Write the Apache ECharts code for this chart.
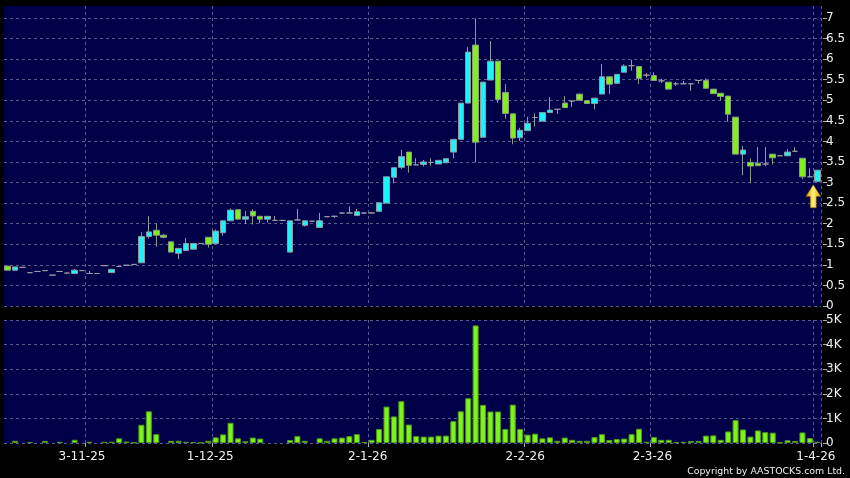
<!DOCTYPE html>
<html>
<head>
<meta charset="utf-8">
<script src="https://cdn.jsdelivr.net/npm/echarts@6/dist/echarts.min.js"></script>
<style>
html,body{margin:0;padding:0;background:#000;}
#chart{width:850px;height:478px;}
</style>
</head>
<body>
<div id="chart"></div>
<script>
// ---- data ----
const open = [0.97,0.87,0.94,0.81,0.84,0.86,0.75,0.84,0.80,0.79,
0.86,0.79,0.79,0.98,0.81,0.96,0.99,1.01,1.05,1.69,
1.84,1.72,1.56,1.28,1.35,1.38,1.52,1.67,1.52,1.78,
2.07,2.34,2.11,2.30,2.18,2.11,2.08,2.08,1.31,2.09,
1.96,2.06,1.91,2.17,2.18,2.26,2.26,2.20,2.26,2.26,
2.30,2.50,3.13,3.37,3.74,3.43,3.44,3.49,3.45,3.48,
3.74,4.05,4.93,6.34,4.10,5.49,5.95,5.19,4.67,4.09,
4.26,4.58,4.49,4.70,4.78,4.93,4.98,5.15,4.99,4.92,
5.15,5.57,5.41,5.68,5.84,5.82,5.61,5.60,5.47,5.44,
5.40,5.40,5.40,5.48,5.48,5.27,5.17,5.10,4.59,3.69,
3.49,3.47,3.45,3.69,3.65,3.65,3.76,3.59,3.14,3.03];
const high = [0.97,0.95,0.94,0.81,0.84,0.86,0.75,0.84,0.80,0.90,
0.86,0.85,0.79,0.98,0.89,0.96,0.99,1.01,1.79,2.19,
2.01,1.75,1.56,1.41,1.65,1.52,1.52,1.67,1.86,2.07,
2.37,2.34,2.31,2.35,2.18,2.18,2.19,2.08,2.07,2.36,
2.07,2.06,2.26,2.17,2.18,2.26,2.42,2.36,2.26,2.26,
2.51,3.14,3.36,3.79,3.74,3.59,3.55,3.59,3.54,3.58,
4.05,4.93,6.29,6.99,5.44,6.44,5.95,5.39,4.67,4.33,
4.60,4.68,4.70,5.08,4.78,5.10,4.98,5.15,4.99,5.05,
5.88,5.57,5.63,5.87,5.98,5.82,5.66,5.68,5.52,5.44,
5.44,5.47,5.40,5.48,5.53,5.27,5.17,5.10,4.59,3.89,
3.59,3.86,3.86,3.69,3.65,3.81,3.86,3.59,3.35,3.30];
const low = [0.87,0.87,0.94,0.81,0.84,0.86,0.75,0.84,0.80,0.79,
0.86,0.79,0.79,0.98,0.81,0.96,0.99,1.01,1.05,1.64,
1.44,1.65,1.31,1.14,1.33,1.38,1.52,1.42,1.52,1.71,
2.07,2.11,1.99,1.98,2.01,2.03,2.08,2.08,1.31,2.09,
1.93,2.06,1.91,2.17,2.14,2.26,2.26,2.20,2.26,2.26,
2.30,2.50,2.98,3.33,3.24,3.43,3.39,3.41,3.45,3.48,
3.59,4.05,4.93,3.49,4.10,5.49,4.93,4.55,3.93,4.01,
4.26,4.36,4.49,4.70,4.67,4.82,4.84,5.00,4.92,4.78,
5.15,5.15,5.41,5.68,5.72,5.39,5.55,5.48,5.42,5.27,
5.35,5.40,5.23,5.40,5.29,5.16,4.99,4.48,3.69,3.18,
2.98,3.41,3.40,3.44,3.65,3.65,3.76,3.08,3.14,3.03];
const close = [0.87,0.95,0.94,0.81,0.84,0.86,0.75,0.84,0.80,0.87,
0.86,0.79,0.79,0.98,0.89,0.96,0.99,1.01,1.69,1.80,
1.72,1.67,1.31,1.40,1.52,1.52,1.52,1.50,1.82,2.07,
2.33,2.11,2.17,2.19,2.11,2.18,2.08,2.08,2.07,2.09,
2.07,2.06,2.07,2.17,2.18,2.26,2.26,2.29,2.26,2.26,
2.51,3.14,3.36,3.63,3.42,3.43,3.50,3.49,3.54,3.58,
4.05,4.93,6.17,3.98,5.44,5.95,5.02,4.68,4.08,4.27,
4.44,4.58,4.70,4.76,4.78,4.82,4.98,5.00,4.92,5.05,
5.57,5.39,5.63,5.83,5.84,5.53,5.61,5.48,5.47,5.27,
5.40,5.40,5.40,5.48,5.29,5.16,5.09,4.66,3.69,3.79,
3.40,3.41,3.45,3.60,3.65,3.74,3.76,3.14,3.14,3.30];
// volume in thousands (K)
const volumeK = [0,0.09,0,0.04,0,0.08,0,0.05,0,0.13,
0,0.05,0,0.05,0.05,0.19,0.06,0.02,0.74,1.29,
0.36,0,0.09,0.09,0.05,0.04,0.02,0.09,0.23,0.35,
0.82,0.19,0.07,0.22,0.18,0,0,0,0.12,0.28,
0.09,0,0.19,0.09,0.19,0.22,0.28,0.36,0.04,0.13,
0.57,1.48,1.08,1.70,0.75,0.28,0.26,0.26,0.30,0.30,
0.89,1.29,1.82,4.78,1.55,1.28,1.28,0.57,1.56,0.57,
0.34,0.38,0.19,0.23,0.09,0.22,0.13,0.09,0.09,0.24,
0.36,0.12,0.16,0.18,0.36,0.58,0.05,0.24,0.13,0.13,
0.03,0.05,0.08,0.08,0.30,0.31,0.13,0.47,0.93,0.55,
0.26,0.51,0.44,0.42,0.02,0.11,0.08,0.43,0.20,0.05];
// month tick labels and the session (category index) they belong to
const monthLabels = ['3-11-25','1-12-25','2-1-26','2-2-26','2-3-26','1-4-26'];
const monthSession = [10, 27, 48, 69, 86, 108];
const priceTicks = [0,0.5,1,1.5,2,2.5,3,3.5,4,4.5,5,5.5,6,6.5,7];
const volumeTicksK = [0,1,2,3,4,5];

// ---- styles ----
const NAVY = '#000048';
const GRID_LINE = '#5a5a92';
const UP = '#1ef2f6', DOWN = '#80ef1e', DOJI = '#9a9aa2';
const LABEL = '#f0f0f0';
const FONT = 'DejaVu Sans';
const labelShiftPx = [0, 2, 3.5, 5, 6, 6];

const categories = open.map((_, i) => {
  const k = monthSession.indexOf(i);
  return k >= 0 ? monthLabels[k] : 's' + i;
});
const candleData = open.map((o, i) => {
  const item = { value: [o, close[i], low[i], high[i]] };
  if (o === close[i]) {
    item.itemStyle = { color: DOJI, color0: DOJI, borderColor: DOJI, borderColor0: DOJI };
  }
  return item;
});
const volData = volumeK.map(v => v > 0 ? v : '-');
const lastIdx = open.length - 1;

const richLabels = {};
labelShiftPx.forEach((s, k) => {
  richLabels['s' + k] = { color: LABEL, fontFamily: FONT, fontSize: 12, padding: [0, 0, 0, 2 * s] };
});

const splitX = {
  show: true,
  interval: (idx) => monthSession.indexOf(idx - 1) >= 0,
  lineStyle: { color: GRID_LINE, type: [3, 3], width: 1 }
};
const splitY = { show: true, lineStyle: { color: GRID_LINE, type: [3, 3], width: 1 } };

const chart = echarts.init(document.getElementById('chart'), null, { renderer: 'canvas' });
chart.setOption({
  animation: false,
  backgroundColor: '#000000',
  grid: [
    { left: 4, right: 29, top: 6, height: 300, show: true, backgroundColor: NAVY, borderWidth: 0 },
    { left: 4, right: 29, top: 320, height: 123, show: true, backgroundColor: NAVY, borderWidth: 0 }
  ],
  xAxis: [
    { type: 'category', gridIndex: 0, data: categories, boundaryGap: true,
      axisLine: { show: false }, axisTick: { show: false }, axisLabel: { show: false },
      splitLine: splitX },
    { type: 'category', gridIndex: 1, data: categories, boundaryGap: true,
      axisLine: { show: false },
      axisTick: { show: true, length: 4, interval: (idx) => monthSession.indexOf(idx - 1) >= 0,
        lineStyle: { color: '#b0b0b0' } },
      axisLabel: { show: true, interval: (idx) => monthSession.indexOf(idx) >= 0,
        color: LABEL, fontFamily: FONT, fontSize: 12, margin: 8,
        formatter: (val, idx) => {
          const k = monthSession.indexOf(idx);
          return '{s' + Math.max(k, 0) + '|' + val + '}';
        },
        rich: richLabels
      },
      splitLine: splitX }
  ],
  yAxis: [
    { type: 'value', gridIndex: 0, position: 'right', min: 0, max: 7.29, interval: 0.5, offset: 2,
      axisLine: { show: false },
      axisTick: { show: true, length: 4, lineStyle: { color: '#b0b0b0' } },
      axisLabel: { color: LABEL, fontFamily: FONT, fontSize: 12, margin: 3, showMaxLabel: false,
        formatter: (v) => priceTicks.indexOf(v) >= 0 ? String(v) : '' },
      splitLine: Object.assign({ showMaxLine: false }, splitY) },
    { type: 'value', gridIndex: 1, position: 'right', min: 0, max: 5, interval: 1, offset: 2,
      axisLine: { show: false },
      axisTick: { show: true, length: 4, lineStyle: { color: '#b0b0b0' } },
      axisLabel: { color: LABEL, fontFamily: FONT, fontSize: 12, margin: 3,
        formatter: (v) => volumeTicksK.indexOf(v) >= 0 ? (v === 0 ? '0' : v + 'K') : '' },
      splitLine: splitY }
  ],
  series: [
    { type: 'candlestick', xAxisIndex: 0, yAxisIndex: 0, data: candleData, barWidth: 6,
      itemStyle: { color: UP, color0: DOWN, borderColor: '#8a9ca4', borderColor0: '#8c9a80',
        borderColorDoji: DOJI, borderWidth: 1 },
      markPoint: {
        symbol: 'path://M7.5,0 L15,11.7 L10.5,11.7 L10.5,23 L4.5,23 L4.5,11.7 L0,11.7 Z',
        symbolSize: [15, 23], symbolKeepAspect: false,
        symbolOffset: [-4, 15],
        label: { show: false },
        itemStyle: {
          color: { type: 'linear', x: 0, y: 0, x2: 1, y2: 0,
            colorStops: [{ offset: 0, color: '#d09000' }, { offset: 0.5, color: '#fff07a' }, { offset: 1, color: '#dca000' }] },
          borderColor: '#8a5a00', borderWidth: 0.5
        },
        data: [{ coord: [lastIdx, low[lastIdx]] }]
      }
    },
    { type: 'bar', xAxisIndex: 1, yAxisIndex: 1, data: volData, barWidth: 6,
      itemStyle: { color: '#7ef21c', borderColor: '#4f9c17', borderWidth: 1 } }
  ],
  graphic: [
    { type: 'text', right: 5, bottom: 2,
      style: { text: 'Copyright by AASTOCKS.com Ltd.', fill: '#f0f0f0', font: '9.4px "DejaVu Sans"' } }
  ]
});
</script>
</body>
</html>
